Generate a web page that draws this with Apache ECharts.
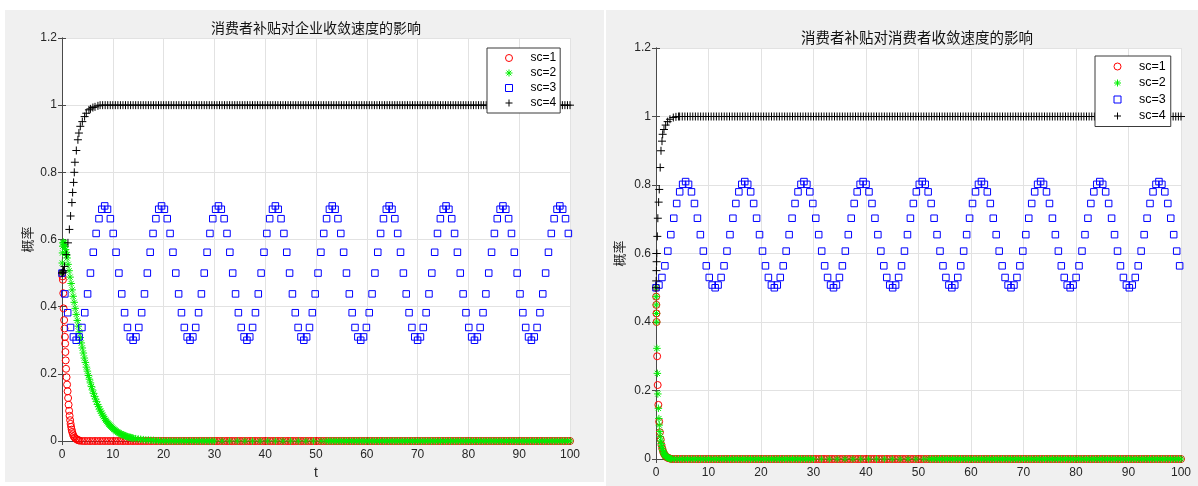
<!DOCTYPE html>
<html>
<head>
<meta charset="utf-8">
<script src="https://cdn.jsdelivr.net/npm/echarts@6/dist/echarts.min.js"></script>
<style>
  html, body { margin: 0; padding: 0; background: #fff; }
  .panel { position: absolute; background: #f0f0f0; }
  #chart { position: absolute; left: 0; top: 0; width: 1198px; height: 486px; }
</style>
</head>
<body>
<div class="panel" style="left:5px;top:10px;width:599px;height:472px"></div>
<div class="panel" style="left:606px;top:10px;width:592px;height:476px"></div>
<div id="chart"></div>
<script>
// shared sampling times for the flat tails (t = 4 .. 100)
var gridT = [
  4,4.5,5,5.5,6,6.5,7,7.5,8,8.5,9,9.5,10,10.5,11,11.5,12,12.5,13,13.5,
  14,14.5,15,15.5,16,16.5,17,17.5,18,18.5,19,19.5,20,20.5,21,21.5,22,22.5,23,23.5,
  24,24.5,25,25.5,26,26.5,27,27.5,28,28.5,29,29.5,30,30.5,31,31.5,32,32.5,33,33.5,
  34,34.5,35,35.5,36,36.5,37,37.5,38,38.5,39,39.5,40,40.5,41,41.5,42,42.5,43,43.5,
  44,44.5,45,45.5,46,46.5,47,47.5,48,48.5,49,49.5,50,50.5,51,51.5,52,52.5,53,53.5,
  54,54.5,55,55.5,56,56.5,57,57.5,58,58.5,59,59.5,60,60.5,61,61.5,62,62.5,63,63.5,
  64,64.5,65,65.5,66,66.5,67,67.5,68,68.5,69,69.5,70,70.5,71,71.5,72,72.5,73,73.5,
  74,74.5,75,75.5,76,76.5,77,77.5,78,78.5,79,79.5,80,80.5,81,81.5,82,82.5,83,83.5,
  84,84.5,85,85.5,86,86.5,87,87.5,88,88.5,89,89.5,90,90.5,91,91.5,92,92.5,93,93.5,
  94,94.5,95,95.5,96,96.5,97,97.5,98,98.5,99,99.5,100
]
var zeroTail = [
  0,0,0,0,0,0,0,0,0,0,0,0,0,0,0,0,0,0,0,0,
  0,0,0,0,0,0,0,0,0,0,0,0,0,0,0,0,0,0,0,0,
  0,0,0,0,0,0,0,0,0,0,0,0,0,0,0,0,0,0,0,0,
  0,0,0,0,0,0,0,0,0,0,0,0,0,0,0,0,0,0,0,0,
  0,0,0,0,0,0,0,0,0,0,0,0,0,0,0,0,0,0,0,0,
  0,0,0,0,0,0,0,0,0,0,0,0,0,0,0,0,0,0,0,0,
  0,0,0,0,0,0,0,0,0,0,0,0,0,0,0,0,0,0,0,0,
  0,0,0,0,0,0,0,0,0,0,0,0,0,0,0,0,0,0,0,0,
  0,0,0,0,0,0,0,0,0,0,0,0,0,0,0,0,0,0,0,0,
  0,0,0,0,0,0,0,0,0,0,0,0,0
]

// ---- left: 企业 ----
var sc1T_L = [0,0.1,0.18,0.25,0.31,0.42,0.5,0.57,0.62,0.67,0.73,0.8,0.9,1,1.1,1.2,1.3,1.4,1.5,1.6,1.7,1.8,1.9,2,2.15,2.3,2.5,2.7,2.9,3.1,3.3,3.5]
var sc1V_L = [0.5,0.49,0.48,0.44,0.395,0.36,0.335,0.31,0.29,0.265,0.24,0.215,0.19,0.168,0.148,0.128,0.108,0.09,0.075,0.062,0.051,0.042,0.034,0.027,0.02,0.014,0.01,0.007,0.005,0.003,0.002,0.001]
var sc1Tail_L = zeroTail

var sc2T_L = [0,0.05,0.1,0.15,0.2,0.3,0.4,0.5,0.6,0.7,0.8,0.9,1,
  1.2,1.4,1.6,1.8,2,2.2,2.4,2.6,2.8,3,3.2,3.4,3.6,3.8,4,4.2,4.4,4.6,4.8,5,
  5.2,5.4,5.6,5.8,6,6.2,6.4,6.6,6.8,7,7.2,7.4,7.6,7.8,8,8.2,8.4,8.6,8.8,9,
  9.2,9.4,9.6,9.8,10,10.2,10.4,10.6,10.8,11,11.2,11.4,11.6,11.8,12,12.2,12.4,12.6,12.8,13,
  13.2,13.4,13.6,13.8,14]
var sc2V_L = [0.5,0.53,0.56,0.58,0.59,0.592,0.59,0.585,0.578,0.57,0.562,0.553,0.545,
  0.526,0.507,0.488,0.469,0.45,0.431,0.413,0.395,0.377,0.359,0.342,0.325,0.308,0.292,0.277,0.262,0.247,0.234,0.22,0.208,
  0.195,0.184,0.173,0.162,0.152,0.142,0.133,0.125,0.117,0.109,0.102,0.095,0.089,0.083,0.077,0.072,0.067,0.062,0.058,0.054,
  0.05,0.047,0.044,0.041,0.038,0.035,0.033,0.03,0.028,0.026,0.024,0.022,0.021,0.019,0.018,0.017,0.016,0.014,0.013,0.012,
  0.011,0.011,0.01,0.009,0.008]
var sc2Tail_L = [
  null,null,null,null,null,null,null,null,null,null,null,null,null,null,null,null,null,null,null,null,
  null,0.007,0.006,0.005,0.004,0.003,0.003,0.002,0.002,0.001,0.001,0,0,0,0,0,0,0,0,0,
  0,0,0,0,0,0,0,0,0,0,0,0,0,null,null,0,null,null,0,null,
  null,0,null,null,0,null,null,0,null,null,0,null,null,0,null,null,0,null,null,0,
  null,null,0,null,null,0,null,null,0,null,null,0,null,null,0,null,0,0,0,0,
  0,0,0,0,0,0,0,0,0,0,0,0,0,0,0,0,0,0,0,0,
  0,0,0,0,0,0,0,0,0,0,0,0,0,0,0,0,0,0,0,0,
  0,0,0,0,0,0,0,0,0,0,0,0,0,0,0,0,0,0,0,0,
  0,0,0,0,0,0,0,0,0,0,0,0,0,0,0,0,0,0,0,0,
  0,0,0,0,0,0,0,0,0,0,0,0,0
]

var sc3T_L = [
  0,0.56,1.12,1.68,2.24,2.8,3.36,3.92,4.48,5.04,5.6,6.16,6.72,7.28,7.84,8.4,8.96,9.52,10.08,10.64,
  11.2,11.76,12.32,12.88,13.44,14,14.56,15.12,15.68,16.24,16.8,17.36,17.92,18.48,19.04,19.6,20.16,20.72,21.28,21.84,
  22.4,22.96,23.52,24.08,24.64,25.2,25.76,26.32,26.88,27.44,28,28.56,29.12,29.68,30.24,30.8,31.36,31.92,32.48,33.04,
  33.6,34.16,34.72,35.28,35.84,36.4,36.96,37.52,38.08,38.64,39.2,39.76,40.32,40.88,41.44,42,42.56,43.12,43.68,44.24,
  44.8,45.36,45.92,46.48,47.04,47.6,48.16,48.72,49.28,49.84,50.4,50.96,51.52,52.08,52.64,53.2,53.76,54.32,54.88,55.44,
  56,56.56,57.12,57.68,58.24,58.8,59.36,59.92,60.48,61.04,61.6,62.16,62.72,63.28,63.84,64.4,64.96,65.52,66.08,66.64,
  67.2,67.76,68.32,68.88,69.44,70,70.56,71.12,71.68,72.24,72.8,73.36,73.92,74.48,75.04,75.6,76.16,76.72,77.28,77.84,
  78.4,78.96,79.52,80.08,80.64,81.2,81.76,82.32,82.88,83.44,84,84.56,85.12,85.68,86.24,86.8,87.36,87.92,88.48,89.04,
  89.6,90.16,90.72,91.28,91.84,92.4,92.96,93.52,94.08,94.64,95.2,95.76,96.32,96.88,97.44,98,98.56,99.12,99.68
]
var sc3V_L = [
  0.5,0.438,0.382,0.338,0.31,0.3,0.31,0.338,0.382,0.438,0.5,0.562,0.618,0.662,0.69,0.7,0.69,0.662,0.618,0.562,
  0.5,0.438,0.382,0.338,0.31,0.3,0.31,0.338,0.382,0.438,0.5,0.562,0.618,0.662,0.69,0.7,0.69,0.662,0.618,0.562,
  0.5,0.438,0.382,0.338,0.31,0.3,0.31,0.338,0.382,0.438,0.5,0.562,0.618,0.662,0.69,0.7,0.69,0.662,0.618,0.562,
  0.5,0.438,0.382,0.338,0.31,0.3,0.31,0.338,0.382,0.438,0.5,0.562,0.618,0.662,0.69,0.7,0.69,0.662,0.618,0.562,
  0.5,0.438,0.382,0.338,0.31,0.3,0.31,0.338,0.382,0.438,0.5,0.562,0.618,0.662,0.69,0.7,0.69,0.662,0.618,0.562,
  0.5,0.438,0.382,0.338,0.31,0.3,0.31,0.338,0.382,0.438,0.5,0.562,0.618,0.662,0.69,0.7,0.69,0.662,0.618,0.562,
  0.5,0.438,0.382,0.338,0.31,0.3,0.31,0.338,0.382,0.438,0.5,0.562,0.618,0.662,0.69,0.7,0.69,0.662,0.618,0.562,
  0.5,0.438,0.382,0.338,0.31,0.3,0.31,0.338,0.382,0.438,0.5,0.562,0.618,0.662,0.69,0.7,0.69,0.662,0.618,0.562,
  0.5,0.438,0.382,0.338,0.31,0.3,0.31,0.338,0.382,0.438,0.5,0.562,0.618,0.662,0.69,0.7,0.69,0.662,0.618
]

var sc4T_L = [0,0.1,0.2,0.3,0.5,0.84,1.17,1.45,1.69,1.95,2.09,2.28,2.42,2.54,2.82,3.13,3.33,3.6,4,4.45,4.78,5.3,5.6,6.08,6.5,7.07]
var sc4V_L = [0.5,0.501,0.503,0.507,0.52,0.555,0.59,0.63,0.67,0.71,0.74,0.77,0.8,0.83,0.865,0.897,0.917,0.937,0.951,0.966,0.976,0.986,0.989,0.993,0.995,0.998]
var sc4Tail_L = [
  null,null,null,null,null,null,null,1,1,1,1,1,1,1,1,1,1,1,1,1,
  1,1,1,1,1,1,1,1,1,1,1,1,1,1,1,1,1,1,1,1,
  1,1,1,1,1,1,1,1,1,1,1,1,1,1,1,1,1,1,1,1,
  1,1,1,1,1,1,1,1,1,1,1,1,1,1,1,1,1,1,1,1,
  1,1,1,1,1,1,1,1,1,1,1,1,1,1,1,1,1,1,1,1,
  1,1,1,1,1,1,1,1,1,1,1,1,1,1,1,1,1,1,1,1,
  1,1,1,1,1,1,1,1,1,1,1,1,1,1,1,1,1,1,1,1,
  1,1,1,1,1,1,1,1,1,1,1,1,1,1,1,1,1,1,1,1,
  1,1,1,1,1,1,1,1,1,1,1,1,1,1,1,1,1,1,1,1,
  1,1,1,1,1,1,1,1,1,1,1,1,1
]

// ---- right: 消费者 ----
var sc1T_R = [0,0.03,0.06,0.09,0.12,0.22,0.32,0.45,0.6,0.75,0.9,1.05,1.2,1.35,1.5,1.7,1.9,2.1,2.3,2.5,2.75,3,3.5]
var sc1V_R = [0.5,0.474,0.45,0.425,0.4,0.3,0.216,0.158,0.109,0.078,0.057,0.041,0.03,0.022,0.016,0.011,0.007,0.005,0.003,0.002,0.001,0,0]
var sc1Tail_R = zeroTail

var sc2T_R = [0,0.03,0.06,0.09,0.12,0.18,0.26,0.35,0.45,0.55,0.63,0.72,0.82,0.92,1,1.1,1.2,1.3,1.4,1.5,1.6,1.7,1.8,1.9,2,2.2,2.4,2.6,2.8,3,3.5]
var sc2V_R = [0.5,0.474,0.45,0.425,0.4,0.323,0.25,0.19,0.148,0.118,0.099,0.08,0.065,0.053,0.045,0.037,0.03,0.025,0.02,0.017,0.014,0.011,0.009,0.007,0.006,0.004,0.003,0.002,0.001,0,0]
var sc2Tail_R = [
  0,0,0,0,0,0,0,0,0,0,0,0,0,0,0,0,0,0,0,0,
  0,0,0,0,0,0,0,0,0,0,0,0,0,0,0,0,0,0,0,0,
  0,0,0,0,0,0,0,0,0,0,0,0,0,null,null,0,null,null,0,null,
  null,0,null,null,0,null,null,0,null,null,0,null,null,0,null,null,0,null,null,0,
  null,null,0,null,null,0,null,null,0,null,null,0,null,null,0,null,0,0,0,0,
  0,0,0,0,0,0,0,0,0,0,0,0,0,0,0,0,0,0,0,0,
  0,0,0,0,0,0,0,0,0,0,0,0,0,0,0,0,0,0,0,0,
  0,0,0,0,0,0,0,0,0,0,0,0,0,0,0,0,0,0,0,0,
  0,0,0,0,0,0,0,0,0,0,0,0,0,0,0,0,0,0,0,0,
  0,0,0,0,0,0,0,0,0,0,0,0,0
]

var sc3T_R = [
  0,0.56,1.13,1.69,2.25,2.82,3.38,3.94,4.51,5.07,5.64,6.2,6.76,7.33,7.89,8.45,9.02,9.58,10.14,10.71,
  11.27,11.83,12.4,12.96,13.52,14.09,14.65,15.21,15.78,16.34,16.91,17.47,18.03,18.6,19.16,19.72,20.29,20.85,21.41,21.98,
  22.54,23.1,23.67,24.23,24.79,25.36,25.92,26.48,27.05,27.61,28.18,28.74,29.3,29.87,30.43,30.99,31.56,32.12,32.68,33.25,
  33.81,34.37,34.94,35.5,36.06,36.63,37.19,37.75,38.32,38.88,39.45,40.01,40.57,41.14,41.7,42.26,42.83,43.39,43.95,44.52,
  45.08,45.64,46.21,46.77,47.33,47.9,48.46,49.02,49.59,50.15,50.72,51.28,51.84,52.41,52.97,53.53,54.1,54.66,55.22,55.79,
  56.35,56.91,57.48,58.04,58.6,59.17,59.73,60.29,60.86,61.42,61.99,62.55,63.11,63.68,64.24,64.8,65.37,65.93,66.49,67.06,
  67.62,68.18,68.75,69.31,69.87,70.44,71,71.56,72.13,72.69,73.26,73.82,74.38,74.95,75.51,76.07,76.64,77.2,77.76,78.33,
  78.89,79.45,80.02,80.58,81.14,81.71,82.27,82.83,83.4,83.96,84.53,85.09,85.65,86.22,86.78,87.34,87.91,88.47,89.03,89.6,
  90.16,90.72,91.29,91.85,92.41,92.98,93.54,94.1,94.67,95.23,95.8,96.36,96.92,97.49,98.05,98.61,99.18,99.74
]
var sc3V_R = [
  0.5,0.508,0.53,0.564,0.607,0.655,0.703,0.746,0.78,0.802,0.81,0.802,0.78,0.746,0.703,0.655,0.607,0.564,0.53,0.508,
  0.5,0.508,0.53,0.564,0.607,0.655,0.703,0.746,0.78,0.802,0.81,0.802,0.78,0.746,0.703,0.655,0.607,0.564,0.53,0.508,
  0.5,0.508,0.53,0.564,0.607,0.655,0.703,0.746,0.78,0.802,0.81,0.802,0.78,0.746,0.703,0.655,0.607,0.564,0.53,0.508,
  0.5,0.508,0.53,0.564,0.607,0.655,0.703,0.746,0.78,0.802,0.81,0.802,0.78,0.746,0.703,0.655,0.607,0.564,0.53,0.508,
  0.5,0.508,0.53,0.564,0.607,0.655,0.703,0.746,0.78,0.802,0.81,0.802,0.78,0.746,0.703,0.655,0.607,0.564,0.53,0.508,
  0.5,0.508,0.53,0.564,0.607,0.655,0.703,0.746,0.78,0.802,0.81,0.802,0.78,0.746,0.703,0.655,0.607,0.564,0.53,0.508,
  0.5,0.508,0.53,0.564,0.607,0.655,0.703,0.746,0.78,0.802,0.81,0.802,0.78,0.746,0.703,0.655,0.607,0.564,0.53,0.508,
  0.5,0.508,0.53,0.564,0.607,0.655,0.703,0.746,0.78,0.802,0.81,0.802,0.78,0.746,0.703,0.655,0.607,0.564,0.53,0.508,
  0.5,0.508,0.53,0.564,0.607,0.655,0.703,0.746,0.78,0.802,0.81,0.802,0.78,0.746,0.703,0.655,0.607,0.564
]

var sc4T_R = [0,0.04,0.08,0.12,0.16,0.25,0.35,0.5,0.62,0.8,0.95,1.14,1.27,1.52,1.84,2.22,2.66,3.3,3.8,4.3]
var sc4V_R = [0.5,0.52,0.55,0.576,0.6,0.65,0.703,0.75,0.787,0.851,0.9,0.928,0.948,0.962,0.975,0.985,0.992,0.997,0.999,1]
var sc4Tail_R = [
  null,1,1,1,1,1,1,1,1,1,1,1,1,1,1,1,1,1,1,1,
  1,1,1,1,1,1,1,1,1,1,1,1,1,1,1,1,1,1,1,1,
  1,1,1,1,1,1,1,1,1,1,1,1,1,1,1,1,1,1,1,1,
  1,1,1,1,1,1,1,1,1,1,1,1,1,1,1,1,1,1,1,1,
  1,1,1,1,1,1,1,1,1,1,1,1,1,1,1,1,1,1,1,1,
  1,1,1,1,1,1,1,1,1,1,1,1,1,1,1,1,1,1,1,1,
  1,1,1,1,1,1,1,1,1,1,1,1,1,1,1,1,1,1,1,1,
  1,1,1,1,1,1,1,1,1,1,1,1,1,1,1,1,1,1,1,1,
  1,1,1,1,1,1,1,1,1,1,1,1,1,1,1,1,1,1,1,1,
  1,1,1,1,1,1,1,1,1,1,1,1,1
]

var legendNames = ['sc=1', 'sc=2', 'sc=3', 'sc=4']
var xTicks = { min: 0, max: 100, interval: 10 }
var yTicks = { min: 0, max: 1.2, interval: 0.2 }

// pair up times and values, skip missing samples
function pts(t, v) {
  var out = []
  var n = Math.min(t.length, v.length)
  for (var i = 0; i < n; i++) {
    if (v[i] !== null) out.push([t[i], v[i]])
  }
  return out
}

var markers = {
  'sc=1': { symbol: 'circle', size: 7, color: '#ff0000' },
  'sc=2': { symbol: 'path://M5,0L5,10M0,5L10,5M1.5,1.5L8.5,8.5M8.5,1.5L1.5,8.5', size: 7.5, color: '#00ee00' },
  'sc=3': { symbol: 'rect', size: 6.5, color: '#0000ff' },
  'sc=4': { symbol: 'path://M5,0L5,10M0,5L10,5', size: 8, color: '#000000' }
}

function markerStyle(m) {
  return { color: 'rgba(0,0,0,0)', borderColor: m.color, borderWidth: 1, opacity: 1 }
}

function scatter(name, idx, data) {
  var m = markers[name]
  return {
    name: name,
    type: 'scatter',
    xAxisIndex: idx,
    yAxisIndex: idx,
    data: data,
    symbol: m.symbol,
    symbolSize: m.size,
    silent: true,
    itemStyle: markerStyle(m),
    emphasis: { disabled: true }
  }
}

var axisColor = '#4a4a4a'
var labelFont = 'Liberation Sans, Arial, sans-serif'
var cjkFont = 'Noto Sans CJK SC, sans-serif'

function xAxes(grid, nameGap) {
  return [{
    gridIndex: grid, type: 'value', min: xTicks.min, max: xTicks.max, interval: xTicks.interval,
    name: 't', nameLocation: 'middle', nameGap: nameGap,
    nameTextStyle: { fontSize: 14, color: '#262626', fontFamily: labelFont },
    axisLine: { lineStyle: { color: axisColor, width: 1 } },
    axisTick: { inside: true, length: 4, lineStyle: { color: axisColor } },
    axisLabel: { color: '#262626', fontSize: 12, margin: 8, fontFamily: labelFont },
    splitLine: { show: true, lineStyle: { color: '#e2e2e2', width: 1 } }
  }, {
    gridIndex: grid, type: 'value', position: 'top', min: xTicks.min, max: xTicks.max, interval: xTicks.interval,
    axisLine: { lineStyle: { color: axisColor, width: 1 } },
    axisTick: { inside: true, length: 4, lineStyle: { color: axisColor } },
    axisLabel: { show: false },
    splitLine: { show: false }
  }]
}

function yAxes(grid, nameGap) {
  return [{
    gridIndex: grid, type: 'value', min: yTicks.min, max: yTicks.max, interval: yTicks.interval,
    name: '概率', nameLocation: 'middle', nameRotate: 90, nameGap: nameGap,
    nameTextStyle: { fontSize: 13, color: '#262626', fontFamily: cjkFont },
    axisLine: { show: true, lineStyle: { color: axisColor, width: 1 } },
    axisTick: { show: true, inside: true, length: 4, lineStyle: { color: axisColor } },
    axisLabel: { color: '#262626', fontSize: 12, margin: 5, fontFamily: labelFont },
    splitLine: { show: true, lineStyle: { color: '#e2e2e2', width: 1 } }
  }, {
    gridIndex: grid, type: 'value', position: 'right', min: yTicks.min, max: yTicks.max, interval: yTicks.interval,
    axisLine: { show: true, lineStyle: { color: axisColor, width: 1 } },
    axisTick: { show: true, inside: true, length: 4, lineStyle: { color: axisColor } },
    axisLabel: { show: false },
    splitLine: { show: false }
  }]
}

function legend(left, top, gap, size, pad, textPad) {
  return {
    data: legendNames.map(function (n) {
      var m = markers[n]
      return { name: n, icon: m.symbol, itemStyle: markerStyle(m) }
    }),
    orient: 'vertical', left: left, top: top,
    itemWidth: 7, itemHeight: 7, itemGap: gap,
    backgroundColor: '#fff', borderColor: '#3a3a3a', borderWidth: 1, borderRadius: 0,
    padding: pad, selectedMode: false,
    textStyle: { fontSize: size, lineHeight: 12, color: '#000', fontFamily: labelFont, padding: [0, 0, 0, textPad] }
  }
}

function title(text, x, y, size) {
  return {
    type: 'text', x: x, y: y,
    style: {
      text: text, fill: '#111', font: size + 'px "Noto Sans CJK SC"',
      textAlign: 'center', textVerticalAlign: 'middle', align: 'center', verticalAlign: 'middle'
    }
  }
}

var chart = echarts.init(document.getElementById('chart'), null, { renderer: 'canvas' })
chart.setOption({
  backgroundColor: 'transparent',
  animation: false,
  graphic: [
    title('消费者补贴对企业收敛速度的影响', 316, 28, 14),
    title('消费者补贴对消费者收敛速度的影响', 917, 37, 14.5)
  ],
  grid: [
    { left: 62, right: 628, top: 38, bottom: 45, show: true, backgroundColor: '#fff', borderWidth: 0, outerBoundsMode: 'none', containLabel: false },
    { left: 656, right: 17, top: 48, bottom: 27, show: true, backgroundColor: '#fff', borderWidth: 0, outerBoundsMode: 'none', containLabel: false }
  ],
  xAxis: xAxes(0, 25).concat(xAxes(1, 27)),
  yAxis: yAxes(0, 28).concat(yAxes(1, 30)),
  legend: [
    legend(487, 48, 3, 12, [4, 4, 4, 18], 13),
    legend(1095, 56, 3.5, 12.5, [4, 5, 4, 18.5], 13)
  ],
  series: [
    scatter('sc=1', 0, pts(sc1T_L, sc1V_L).concat(pts(gridT, sc1Tail_L))),
    scatter('sc=2', 0, pts(sc2T_L, sc2V_L).concat(pts(gridT, sc2Tail_L))),
    scatter('sc=3', 0, pts(sc3T_L, sc3V_L)),
    scatter('sc=4', 0, pts(sc4T_L, sc4V_L).concat(pts(gridT, sc4Tail_L))),
    scatter('sc=1', 2, pts(sc1T_R, sc1V_R).concat(pts(gridT, sc1Tail_R))),
    scatter('sc=2', 2, pts(sc2T_R, sc2V_R).concat(pts(gridT, sc2Tail_R))),
    scatter('sc=3', 2, pts(sc3T_R, sc3V_R)),
    scatter('sc=4', 2, pts(sc4T_R, sc4V_R).concat(pts(gridT, sc4Tail_R)))
  ]
})
</script>
</body>
</html>
